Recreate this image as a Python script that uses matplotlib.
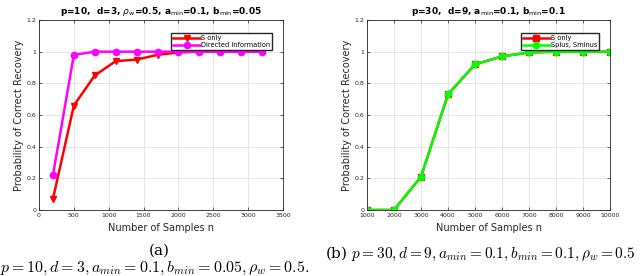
import matplotlib
matplotlib.use("Agg")
import matplotlib.pyplot as plt

# (a) p=10, d=3
n_a = [200, 500, 800, 1100, 1400, 1700, 2000, 2300, 2600, 2900, 3200]
s_only_a = [0.07, 0.66, 0.85, 0.94, 0.95, 0.98, 0.995, 1.0, 1.0, 1.0, 1.0]
dir_info_a = [0.22, 0.98, 1.0, 1.0, 1.0, 1.0, 1.0, 1.0, 1.0, 1.0, 1.0]

# (b) p=30, d=9
n_b = [1000, 2000, 3000, 4000, 5000, 6000, 7000, 8000, 9000, 10000]
s_only_b = [0.0, 0.0, 0.21, 0.73, 0.92, 0.97, 0.995, 1.0, 1.0, 1.0]
splus_b = [0.0, 0.0, 0.21, 0.73, 0.92, 0.97, 0.995, 1.0, 1.0, 1.0]

yticks = [0, 0.2, 0.4, 0.6, 0.8, 1.0, 1.2]
ylabels = ["0", "0.2", "0.4", "0.6", "0.8", "1", "1.2"]

plt.rcParams["mathtext.fontset"] = "cm"

fig = plt.figure(figsize=(6.4, 2.76), dpi=100)
ax1 = fig.add_axes([39 / 640, 66 / 276, 244 / 640, 190 / 276])
ax2 = fig.add_axes([367 / 640, 66 / 276, 243 / 640, 190 / 276])


def style(ax):
    ax.set_ylim(0, 1.2)
    ax.set_yticks(yticks)
    ax.set_yticklabels(ylabels)
    ax.grid(True, color="#e0e0e0", linewidth=0.6)
    ax.set_axisbelow(True)
    ax.tick_params(direction="in", length=2, width=0.5, labelsize=4.5,
                   colors="#262626", pad=2, top=True, right=True)
    for s in ax.spines.values():
        s.set_linewidth(0.6)
        s.set_color("#262626")
    ax.set_xlabel("Number of Samples n", fontsize=7, labelpad=4, color="#262626")
    ax.set_ylabel("Probability of Correct Recovery", fontsize=7, labelpad=2,
                  color="#262626")


def add_legend(ax):
    ax.legend(loc="upper right", bbox_to_anchor=(0.97, 0.95), fontsize=4.8,
              fancybox=False, edgecolor="#262626", framealpha=1,
              handlelength=4, borderpad=0.3, labelspacing=0.2, handletextpad=0.2)


ax1.plot(n_a, s_only_a, color="red", lw=1.8, marker="v", ms=4.5, label="S only")
ax1.plot(n_a, dir_info_a, color="magenta", lw=1.8, marker="o", ms=4.5,
         label="Directed Information")
ax1.set_xlim(0, 3500)
ax1.set_xticks(range(0, 3501, 500))
style(ax1)
ax1.set_title(r"p=10,  d=3, $\rho_\mathrm{w}$=0.5, a$_\mathrm{min}$=0.1, b$_\mathrm{min}$=0.05",
              fontsize=6.5, fontweight="bold", pad=4, math_fontfamily="dejavusans")
add_legend(ax1)

ax2.plot(n_b, s_only_b, color="red", lw=1.8, marker="s", ms=4.5, label="S only")
ax2.plot(n_b, splus_b, color="#00ff00", lw=1.8, marker="o", ms=4.5,
         label="Splus, Sminus")
ax2.set_xlim(1000, 10000)
ax2.set_xticks(range(1000, 10001, 1000))
style(ax2)
ax2.set_title(r"p=30,  d=9, a$_\mathrm{min}$=0.1, b$_\mathrm{min}$=0.1",
              fontsize=6.5, fontweight="bold", pad=4, math_fontfamily="dejavusans")
add_legend(ax2)

fig.text(159 / 640, 1 - 251 / 276, "(a)", ha="center", va="center",
         fontsize=11, family="serif")
fig.text(155 / 640, 1 - 268 / 276,
         r"$p = 10, d = 3, a_{min} = 0.1, b_{min} = 0.05, \rho_w = 0.5.$",
         ha="center", va="center", fontsize=11.5)
fig.text(480 / 640, 1 - 254 / 276,
         r"(b) $p = 30, d = 9, a_{min} = 0.1, b_{min} = 0.1, \rho_w = 0.5$",
         ha="center", va="center", fontsize=11, family="serif")

fig.savefig("out.png", dpi=100)
